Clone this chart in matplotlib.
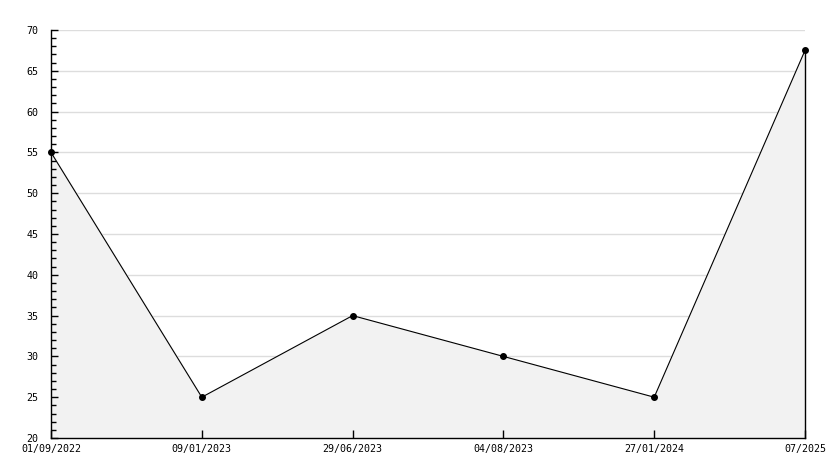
import numpy as np
import matplotlib
matplotlib.use("Agg")
import matplotlib.pyplot as plt
from matplotlib.ticker import MultipleLocator

labels = ["01/09/2022", "09/01/2023", "29/06/2023", "04/08/2023", "27/01/2024", "07/2025"]
values = [55, 25, 35, 30, 25, 67.5]

plt.rcParams["font.family"] = ["DejaVu Sans Mono"]

fig = plt.figure(figsize=(8.34, 4.68), dpi=100)
ax = fig.add_axes([51 / 834, 30 / 468, 754 / 834, 408 / 468])

x = np.arange(len(labels))
ax.set_xlim(0, len(labels) - 1)
ax.set_ylim(20, 70)
ax.set_xticks(x)
ax.set_xticklabels(labels)
ax.yaxis.set_major_locator(MultipleLocator(5))
ax.yaxis.set_minor_locator(MultipleLocator(1))

# gridlines behind the filled area, ticks on top
for yv in np.arange(25, 71, 5):
    ax.axhline(yv, color="#dddddd", linewidth=1, zorder=0.5)

ax.fill_between(x, values, 20, color="#f2f2f2", zorder=1)
ax.plot([x[-1], x[-1]], [20, values[-1]], color="black", linewidth=1, zorder=2, clip_on=False)
ax.plot(x, values, color="black", linewidth=0.8, marker="o", markersize=4,
        zorder=3, clip_on=False)

ax.tick_params(axis="x", direction="in", length=6, width=1, labelsize=7.2, pad=4, colors="black")
ax.tick_params(axis="y", which="major", direction="in", length=5, width=1, labelsize=7.2, pad=9)
ax.tick_params(axis="y", which="minor", direction="in", length=3.5, width=1)

for side in ["top", "right"]:
    ax.spines[side].set_visible(False)
ax.spines["left"].set_linewidth(1)
ax.spines["bottom"].set_linewidth(1)

fig.savefig("out.png", dpi=100, facecolor="white")
